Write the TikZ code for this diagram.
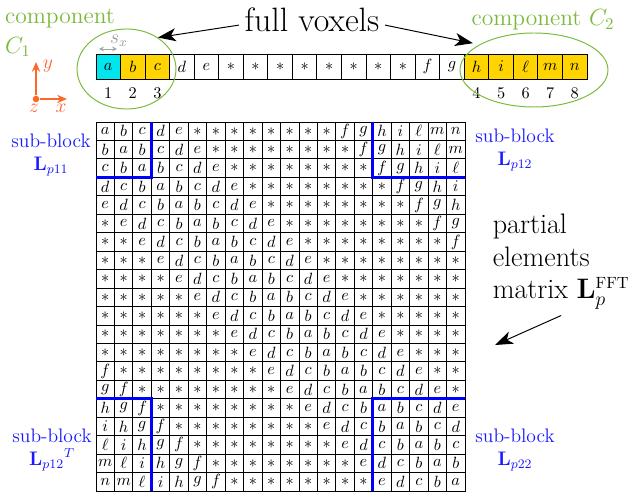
\documentclass[tikz,border=0pt]{standalone}
\usetikzlibrary{shapes.geometric,arrows.meta,positioning}

\definecolor{compgreen}{RGB}{122,186,58}
\definecolor{voxcyan}{RGB}{0,229,238}
\definecolor{voxgold}{RGB}{255,212,0}
\definecolor{axorange}{RGB}{255,102,42}
\definecolor{blockblue}{RGB}{25,25,255}

% label of voxel / matrix entry for a given distance
\newcommand{\voxlbl}[1]{\ifcase#1 a\or b\or c\or d\or e\or *\or *\or *\or *\or *\or *\or *\or *\or f\or g\or h\or i\or \ell\or m\or n\fi}

\begin{document}
\begin{tikzpicture}[x=0.6135pt, y=-0.6135pt,
  voxcell/.style={draw, line width=0.6pt, minimum width=15.06pt, minimum height=15.34pt, inner sep=0pt, outer sep=0pt},
  matcell/.style={draw, line width=0.5pt, minimum size=11.32pt, inner sep=0pt, outer sep=0pt},
  blockline/.style={blue, line width=1.8pt},
  sublbl/.style={blockblue, font=\large, align=center},
  bigarrow/.style={-{Stealth[length=11pt,width=8pt,inset=3pt]}, line width=0.6pt},
  axarrow/.style={axorange, line width=1.2pt, -{Stealth[length=6pt,width=5pt]}}]
  \useasboundingbox (0,0) rectangle (631,494);

  % Row of voxels
  \foreach \j in {0,...,19} {
    \ifnum\j=0 \def\vcol{voxcyan}\else\ifnum\j<3 \def\vcol{voxgold}\else
      \ifnum\j>14 \def\vcol{voxgold}\else\def\vcol{white}\fi\fi\fi
    \node[voxcell, fill=\vcol] (v\j) at ({108.27+24.55*\j},66.5) {$\voxlbl{\j}$};
  }
  \foreach \j/\n in {0/1, 1/2, 2/3, 15/4, 16/5, 17/6, 18/7, 19/8}
    \node[below=1.5pt of v\j] (num\n) {\n};

  % Components
  \node[ellipse, draw=compgreen, line width=0.6pt, minimum width=60.7pt, minimum height=49.1pt] (c1ell) at (126.5,69) {};
  \node[ellipse, draw=compgreen, line width=0.6pt, minimum width=90.8pt, minimum height=45.4pt] (c2ell) at (534,70) {};
  \node[compgreen, font=\Large, align=left] (c1lbl) at (60,33) {component\\$C_1$};
  \node[compgreen, font=\Large] (c2lbl) at (543,20) {component $C_2$};

  % Full voxels
  \node[font=\huge] (fv) at (312,20) {full voxels};
  \draw[bigarrow] (fv.184) -- (c1ell.45);
  \draw[bigarrow, shorten >=4pt] (fv.-4) -- (c2ell.155);

  % Voxel size
  \coordinate (sxa) at (99,49);
  \coordinate (sxb) at (117,49);
  \draw[gray!70, line width=0.5pt, {Stealth[length=3pt,width=3pt]}-{Stealth[length=3pt,width=3pt]}] (sxa) -- (sxb);
  \node[gray!80, font=\large] (sxlbl) at (119,41) {$s_x$};

  % Axes
  \node[circle, fill=axorange, inner sep=0pt, minimum size=4pt] (ax0) at (36,99) {};
  \coordinate (axy) at (36,62);
  \coordinate (axx) at (67,99);
  \draw[axarrow] (ax0) -- (axy);
  \draw[axarrow] (ax0) -- (axx);
  \node[axorange, font=\large] (ylbl) at (48,66) {$y$};
  \node[axorange, font=\large] (xlbl) at (61,108) {$x$};
  \node[axorange, font=\large] (zlbl) at (34,108) {$z$};

  % Matrix Lp
  \foreach \i in {0,...,19}
    \foreach \j in {0,...,19} {
      \pgfmathtruncatemacro\k{abs(\i-\j)}
      \node[matcell] (m\i-\j) at ({105.23+18.45*\j},{131.23+18.45*\i}) {$\voxlbl{\k}$};
    }

  % Sub-blocks
  \draw[blockline] (m0-2.north east) -- (m2-2.south east) -- (m2-0.south west);
  \draw[blockline] (m0-15.north west) -- (m2-15.south west) -- (m2-19.south east);
  \draw[blockline] (m15-0.north west) -- (m15-2.north east) -- (m19-2.south east);
  \draw[blockline] (m19-15.south west) -- (m15-15.north west) -- (m15-19.north east);
  \node[sublbl] (lb11) at (51,155) {sub-block\\$\mathbf{L}_{p11}$};
  \node[sublbl] (lb12) at (515,150) {sub-block\\$\mathbf{L}_{p12}$};
  \node[sublbl] (lb12t) at (52,450) {sub-block\\${\mathbf{L}_{p12}}^{T}$};
  \node[sublbl] (lb22) at (515,450) {sub-block\\$\mathbf{L}_{p22}$};

  % Partial elements matrix
  \node[font=\LARGE, align=left, anchor=west] (pem) at (487,262)
    {partial\\[-2pt]elements\\[-2pt]matrix $\mathbf{L}_p^{\scriptscriptstyle\mathrm{FFT}}$};
  \coordinate (pemtip) at (495,345);
  \draw[bigarrow] (pem.south) -- (pemtip);
\end{tikzpicture}
\end{document}
